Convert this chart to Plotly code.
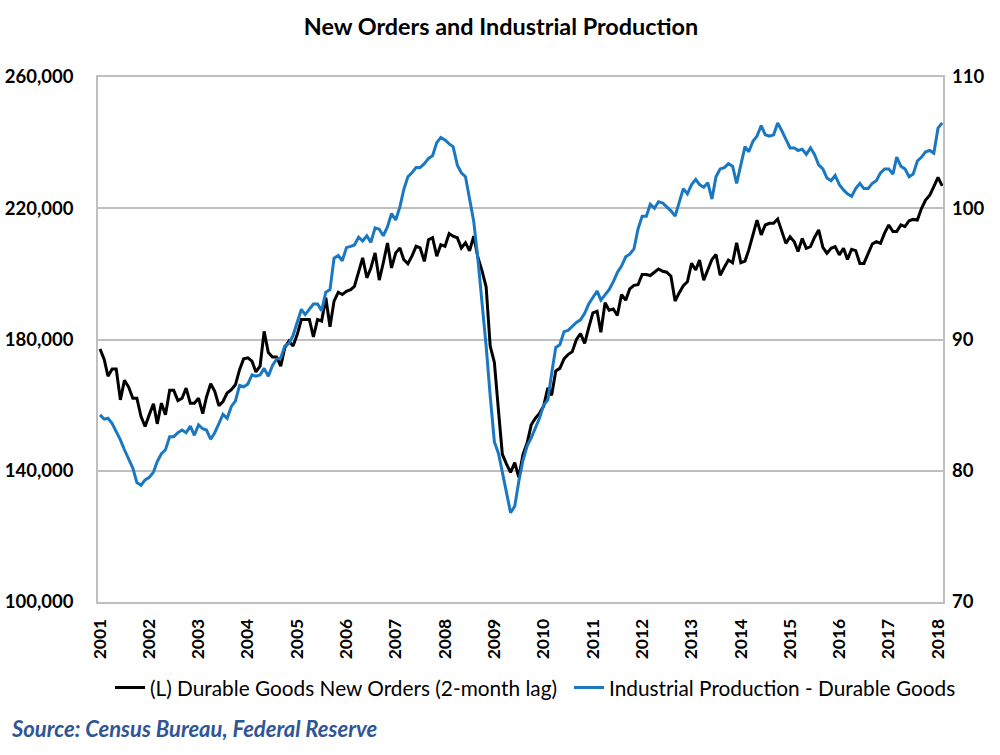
import pandas as pd
import plotly.graph_objects as go

# Monthly observations, Jan 2001 - Feb 2018
dates = pd.date_range("2001-01-01", periods=206, freq="MS")

# (L) Durable Goods New Orders (2-month lag), $ thousands -> scaled below
new_orders_k = [
    177.1, 173.9, 168.8, 171.0, 171.0, 161.6, 167.6, 165.5, 162.1, 162.1, 156.5, 153.5,
    157.1, 160.4, 154.3, 160.6, 157.1, 164.5, 164.5, 161.4, 162.1, 165.2, 160.6, 160.6,
    162.1, 157.4, 162.5, 166.5, 164.2, 159.8, 161.1, 163.7, 164.7, 166.2, 170.8, 174.1,
    174.4, 173.4, 170.1, 171.9, 182.5, 176.0, 174.7, 174.7, 171.9, 177.5, 179.5, 178.0,
    181.5, 186.1, 186.1, 186.1, 180.8, 186.1, 185.6, 192.7, 183.9, 191.7, 194.4, 193.7,
    194.7, 195.2, 196.2, 200.8, 204.9, 198.8, 201.8, 206.4, 198.1, 203.4, 209.4, 201.8,
    206.4, 207.9, 204.4, 203.1, 205.4, 208.4, 207.9, 203.8, 210.4, 211.0, 205.4, 208.9,
    208.4, 212.3, 211.5, 211.0, 207.9, 209.5, 207.0, 211.5, 205.0, 201.0, 196.0, 178.0,
    173.0, 158.0, 145.0, 142.0, 139.5, 142.5, 138.0, 145.0, 148.5, 154.0, 156.0, 157.5,
    159.7, 165.3, 163.0, 170.4, 171.2, 174.1, 175.4, 176.3, 180.0, 181.8, 178.8, 183.6,
    188.1, 188.6, 182.2, 191.2, 188.9, 189.3, 187.3, 193.7, 192.0, 195.4, 196.5, 196.7,
    199.8, 199.8, 199.5, 200.5, 201.5, 200.8, 200.5, 199.3, 191.7, 194.2, 196.4, 197.6,
    203.2, 201.2, 204.2, 198.1, 201.0, 204.4, 205.9, 199.6, 202.0, 204.2, 203.4, 209.5,
    203.4, 203.9, 207.3, 212.4, 216.4, 211.9, 214.9, 215.4, 215.4, 216.7, 212.9, 209.3,
    211.3, 209.8, 206.8, 210.8, 207.8, 208.3, 211.1, 213.4, 208.1, 206.3, 207.8, 208.3,
    205.8, 207.8, 204.4, 207.5, 207.1, 203.2, 203.2, 206.1, 209.1, 209.8, 209.3, 212.4,
    214.9, 212.9, 212.9, 214.9, 214.4, 216.2, 216.6, 216.4, 220.0, 222.5, 224.0, 226.6,
    229.4, 226.8,
]
new_orders = [v * 1000 for v in new_orders_k]

# Industrial Production - Durable Goods (index)
ind_prod = [
    84.26, 83.93, 84.0, 83.6, 82.98, 82.35, 81.6, 80.9, 80.2, 79.1, 78.9, 79.3,
    79.5, 79.9, 80.7, 81.3, 81.6, 82.6, 82.6, 82.9, 83.1, 82.9, 83.4, 82.7,
    83.5, 83.2, 83.1, 82.4, 82.9, 83.6, 84.3, 84.0, 84.9, 85.3, 86.5, 86.4,
    86.6, 87.3, 87.2, 87.3, 87.8, 87.2, 88.0, 88.5, 88.6, 89.5, 89.7, 90.3,
    91.3, 92.3, 91.9, 92.3, 92.7, 92.7, 92.2, 93.6, 93.8, 96.2, 96.4, 96.0,
    97.0, 97.1, 97.2, 97.8, 97.5, 97.9, 97.4, 98.5, 98.4, 97.9, 98.6, 99.6,
    99.1, 100.1, 101.4, 102.4, 102.7, 103.1, 103.1, 103.4, 103.8, 104.0, 105.0, 105.4,
    105.2, 104.9, 104.7, 103.3, 102.7, 102.4, 100.7, 99.0, 96.1, 93.0, 89.5, 85.7,
    82.2, 81.3, 79.8, 78.3, 76.8, 77.3, 79.2, 80.8, 81.9, 82.5, 83.3, 84.0,
    85.0, 85.4, 87.4, 89.4, 89.6, 90.6, 90.7, 91.0, 91.3, 91.5, 92.0, 92.7,
    93.2, 93.7, 93.0, 93.4, 93.8, 94.4, 95.1, 95.6, 96.3, 96.5, 96.9, 98.4,
    99.4, 99.4, 100.3, 100.0, 100.5, 100.4, 100.1, 99.8, 99.4, 100.4, 101.5, 101.1,
    101.8, 102.2, 101.8, 101.6, 101.95, 100.7, 102.4, 103.0, 103.1, 103.4, 103.2, 101.9,
    103.4, 104.7, 104.3, 105.1, 105.5, 106.3, 105.6, 105.5, 105.6, 106.5, 105.9, 105.3,
    104.6, 104.6, 104.4, 104.5, 104.1, 104.6, 104.1, 103.3, 103.0, 102.3, 102.1, 102.5,
    101.8, 101.4, 101.1, 100.9, 101.5, 101.9, 101.5, 101.5, 101.9, 102.1, 102.7, 103.0,
    103.0, 102.6, 103.9, 103.2, 103.0, 102.4, 102.6, 103.6, 103.9, 104.3, 104.4, 104.2,
    106.1, 106.5,
]

years = list(range(2001, 2019))
year_ticks = [pd.Timestamp(f"{y}-01-01") for y in years]
year_labels = [str(y) for y in years]

left_ticks = [100000, 140000, 180000, 220000, 260000]
right_ticks = [70, 80, 90, 100, 110]

FONT = "Lato"
GRID = "#BFBFBF"
BLUE = "#1A78C2"

fig = go.Figure()
fig.add_trace(go.Scatter(
    x=dates, y=new_orders, mode="lines", name="(L) Durable Goods New Orders (2-month lag)",
    line=dict(color="#000000", width=3), yaxis="y", legend="legend",
))
fig.add_trace(go.Scatter(
    x=dates, y=ind_prod, mode="lines", name="Industrial Production - Durable Goods",
    line=dict(color=BLUE, width=3), yaxis="y2", legend="legend2",
))

legend_common = dict(
    orientation="h", xanchor="left", xref="container",
    y=1 - 688 / 755, yanchor="middle", yref="container",
    font=dict(family=FONT, size=20.8, color="#000000"),
    itemwidth=30, bgcolor="rgba(0,0,0,0)", borderwidth=0,
)

fig.update_layout(
    width=1000, height=755,
    paper_bgcolor="white", plot_bgcolor="white",
    margin=dict(l=98, r=57, t=77, b=153, autoexpand=False),
    font=dict(family=FONT, color="#000000"),
    title=dict(
        text="New Orders and Industrial Production",
        x=0.501, xanchor="center", xref="container",
        y=1 - 27 / 755, yanchor="middle", yref="container",
        font=dict(family=FONT, size=23.4, weight="bold", color="#000000"),
    ),
    xaxis=dict(
        type="date",
        range=["2000-12-17", "2018-02-07"],
        tickvals=year_ticks, ticktext=year_labels,
        tickangle=-90,
        tickfont=dict(family=FONT, size=17.5, weight="bold", color="#000000"),
        showgrid=False, zeroline=False,
        showline=True, linecolor=GRID, linewidth=1.5, mirror=True,
        ticks="", ticklabelstandoff=8,
    ),
    yaxis=dict(
        range=[100000, 260000],
        tickvals=left_ticks, tickformat=",",
        tickfont=dict(family=FONT, size=18.5, weight="bold", color="#000000"),
        showgrid=True, gridcolor=GRID, gridwidth=1.5, zeroline=False,
        showline=True, linecolor=GRID, linewidth=1.5, mirror=True,
        ticks="", ticklabelstandoff=19,
    ),
    yaxis2=dict(
        range=[70, 110], overlaying="y", side="right",
        tickvals=right_ticks,
        tickfont=dict(family=FONT, size=18.5, weight="bold", color="#000000"),
        showgrid=False, zeroline=False, showline=False,
        ticks="", ticklabelstandoff=8,
    ),
    legend=dict(x=0.11, **legend_common),
    legend2=dict(x=0.569, **legend_common),
    showlegend=True,
    annotations=[dict(
        text="<i>Source: Census Bureau, Federal Reserve</i>",
        xref="paper", yref="paper",
        x=(9 - 98) / 845, y=(602 - 728) / 525,
        xanchor="left", yanchor="middle", showarrow=False,
        font=dict(family=FONT, size=22, weight="bold", color="#2F5597"),
    )],
)

fig.write_html("out.html")
